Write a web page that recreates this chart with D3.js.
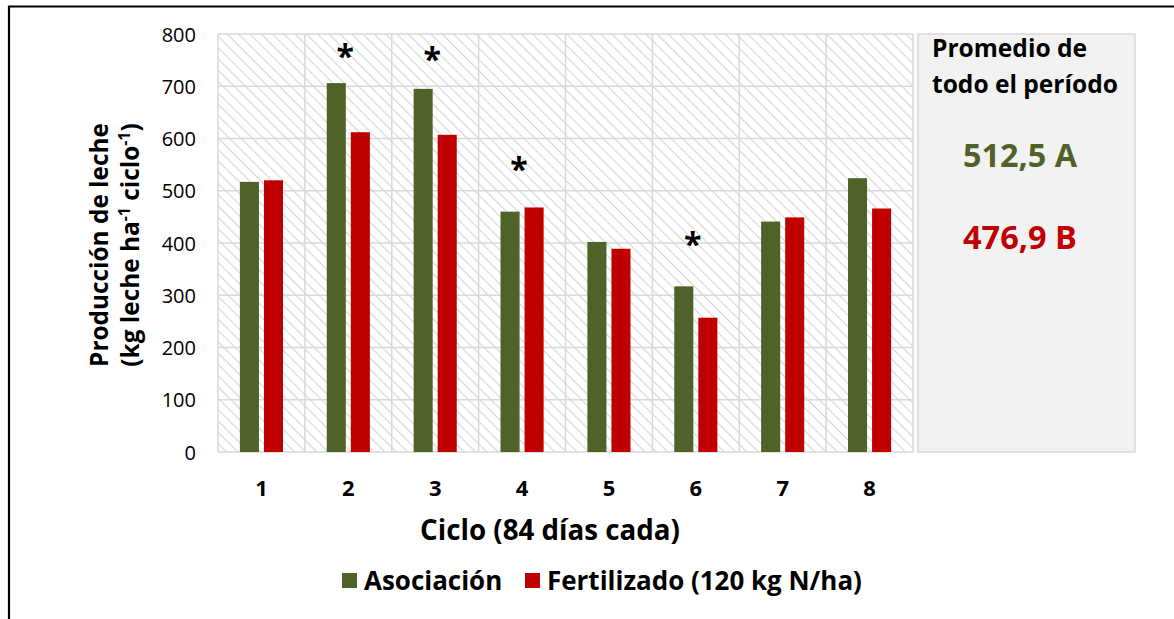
<!DOCTYPE html>
<html><head><meta charset="utf-8">
<script src="https://cdn.jsdelivr.net/npm/d3@7"></script>
<style>body{margin:0;background:#fff}svg{display:block;font-family:"Open Sans",sans-serif}</style>
</head><body>
<svg id="c" width="1174" height="619"></svg>
<script>
const cycles = ["1","2","3","4","5","6","7","8"];
const asociacion = [517, 706, 695, 460, 402, 317, 441, 524];
const fertilizado = [520, 612, 607, 468, 389, 257, 449, 466];
const asterisks = [{cycle:"2", y:766},{cycle:"3", y:760},{cycle:"4", y:549},{cycle:"6", y:406}];
const yTicks = [0,100,200,300,400,500,600,700,800];
const seriesNames = ["Asociación","Fertilizado (120 kg N/ha)"];
const colors = ["#4F6228","#C00000"];
const panelTitle = ["Promedio de","todo el período"];
const panelValues = ["512,5 A","476,9 B"];

const svg = d3.select("#c");
const L=218, R=913, T=34, B=452;
const x0 = d3.scaleBand().domain(cycles).range([L,R]);
const x1 = d3.scaleBand().domain([0,1]).range([0,x0.bandwidth()]).paddingInner(0.208).paddingOuter(0.91);
const y = d3.scaleLinear().domain([0,800]).range([B,T]);

function fit(sel, target){
  const n = sel.node(); const fs = +sel.attr("font-size");
  const w = n.getComputedTextLength();
  const nf = fs*target/w; sel.attr("font-size", nf); return nf;
}

// outer frame
svg.append("path").attr("d","M9,620 V6.5 H1175").attr("fill","none").attr("stroke","#000").attr("stroke-width",2.2);

// hatch pattern
const defs = svg.append("defs");
const pat = defs.append("pattern").attr("id","hatch").attr("patternUnits","userSpaceOnUse")
  .attr("width",8).attr("height",8).attr("patternTransform","rotate(-45)");
pat.append("rect").attr("width",8).attr("height",8).attr("fill","#fff");
pat.append("line").attr("x1",0).attr("y1",0).attr("x2",0).attr("y2",8).attr("stroke","#d6d6d6").attr("stroke-width",2.2);

svg.append("rect").attr("x",L).attr("y",T).attr("width",R-L).attr("height",B-T).attr("fill","url(#hatch)");

// grid
const g = svg.append("g").attr("stroke","#d9d9d9").attr("stroke-width",1.5);
g.selectAll("line.h").data(yTicks).join("line").attr("x1",L).attr("x2",R).attr("y1",d=>y(d)).attr("y2",d=>y(d));
g.selectAll("line.v").data(cycles.concat(["end"])).join("line")
  .attr("x1",(d,i)=>i<cycles.length?x0(d):R).attr("x2",(d,i)=>i<cycles.length?x0(d):R).attr("y1",T).attr("y2",B);

// y labels
const yAxis = d3.axisLeft(y).tickValues(yTicks).tickSize(0).tickPadding(0);
const ya = svg.append("g").attr("transform",`translate(${L-22},0)`).call(yAxis);
ya.select(".domain").remove();
ya.selectAll("text").attr("font-size",20).attr("fill","#000").attr("font-family","Open Sans").attr("dy","0.36em");

// x labels
const xAxis = d3.axisBottom(x0).tickSize(0).tickPadding(0);
const xa = svg.append("g").attr("transform",`translate(0,${B+28})`).call(xAxis);
xa.select(".domain").remove();
xa.selectAll("text").attr("font-size",22).attr("font-weight","bold").attr("fill","#000").attr("font-family","Open Sans");

// bars
const data = cycles.map((c,i)=>({c, v:[asociacion[i],fertilizado[i]]}));
const bg = svg.append("g");
data.forEach(d=>{
  d.v.forEach((v,k)=>{
    bg.append("rect").attr("x",x0(d.c)+x1(k)).attr("width",x1.bandwidth())
      .attr("y",y(v)).attr("height",y(0)-y(v)).attr("fill",colors[k]);
  });
});

// asterisks
svg.selectAll("text.ast").data(asterisks).join("text")
  .attr("x",d=>x0(d.cycle)+x0.bandwidth()/2-3).attr("y",d=>y(d.y)+16)
  .attr("text-anchor","middle").attr("font-size",32).attr("font-weight","bold").text("*");

// titles
const xt = svg.append("text").attr("x",550).attr("y",540).attr("text-anchor","middle")
  .attr("font-size",20).attr("font-weight","bold").text("Ciclo (84 días cada)");
fit(xt, 260);
const yt1 = svg.append("text").attr("transform","translate(108,245) rotate(-90)").attr("text-anchor","middle")
  .attr("font-size",21).attr("font-weight","bold").text("Producción de leche");
const fs1 = fit(yt1, 244);
const yt = svg.append("text").attr("transform","translate(139,245) rotate(-90)").attr("text-anchor","middle")
  .attr("font-size",fs1).attr("font-weight","bold");
const sup = fs1*0.65;
yt.append("tspan").text("(kg leche ha");
yt.append("tspan").attr("font-size",sup).attr("dy",-9).text("-1");
yt.append("tspan").attr("dy",9).text(" ciclo");
yt.append("tspan").attr("font-size",sup).attr("dy",-9).text("-1");
yt.append("tspan").attr("dy",9).text(")");

// panel
svg.append("rect").attr("x",918).attr("y",T).attr("width",217).attr("height",B-T)
  .attr("fill","#f2f2f2").attr("stroke","#d9d9d9").attr("stroke-width",1.5);
const pts = svg.selectAll("text.pt").data(panelTitle).join("text").attr("x",932).attr("y",(d,i)=>57+i*36)
  .attr("font-size",20).attr("font-weight","bold").text(d=>d);
fit(d3.select(pts.nodes()[1]), 186);
d3.select(pts.nodes()[0]).attr("font-size", d3.select(pts.nodes()[1]).attr("font-size"));
const pvs = svg.selectAll("text.pv").data(panelValues).join("text").attr("x",1020).attr("y",(d,i)=>167+i*82)
  .attr("text-anchor","middle").attr("font-size",24).attr("font-weight","bold")
  .attr("fill",(d,i)=>colors[i]).text(d=>d);
pvs.each(function(){ fit(d3.select(this), 114); });

// legend
const lg = svg.append("g");
const lx = [342, 525];
const lt = [];
seriesNames.forEach((n,i)=>{
  lg.append("rect").attr("x",lx[i]).attr("y",573).attr("width",15).attr("height",15).attr("fill",colors[i]);
  lt.push(lg.append("text").attr("x",lx[i]+22).attr("y",590).attr("font-size",21).attr("font-weight","bold").text(n));
});
fit(lt[1], 315); lt[0].attr("font-size", lt[1].attr("font-size"));
</script>
</body></html>
